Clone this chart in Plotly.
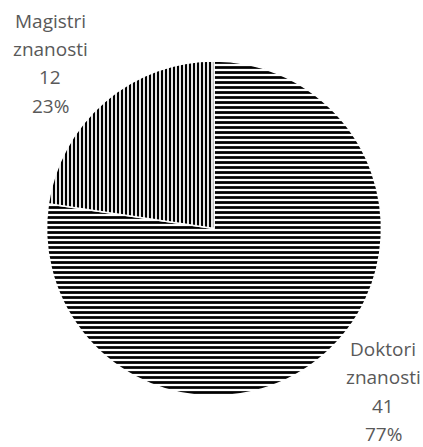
import plotly.graph_objects as go

labels = ["Doktori znanosti", "Magistri znanosti"]
values = [41, 12]
percents = ["77%", "23%"]
shapes = ["-", "|"]

fig = go.Figure(go.Pie(
    labels=labels,
    values=values,
    sort=False,
    direction="clockwise",
    rotation=0,
    textinfo="none",
    hoverinfo="label+value+percent",
    marker=dict(
        colors=["white", "white"],
        line=dict(color="white", width=1.5),
        pattern=dict(shape=shapes, fgcolor="black", bgcolor="white",
                     size=[5, 4], solidity=0.55, fillmode="replace"),
    ),
    domain=dict(x=[46.5/423, 381.5/423], y=[1-396/447, 1-61/447]),
    showlegend=False,
))

font = dict(family="Open Sans, Lato, sans-serif", size=19, color="#595959")
# label anchor: (center x, first baseline y), line step in px
pos = {"Doktori znanosti": (383, 357), "Magistri znanosti": (50, 29)}
step = 28.5
for lab, v, p in zip(labels, values, percents):
    x, y0 = pos[lab]
    lines = lab.split(" ") + [str(v), p]
    for i, line in enumerate(lines):
        yc = y0 + i * step - 8.5
        fig.add_annotation(x=x/423, y=1-yc/447, xref="paper", yref="paper",
                           text=line, showarrow=False, font=font,
                           xanchor="center", yanchor="middle", align="center")

fig.update_layout(width=423, height=447, margin=dict(l=0, r=0, t=0, b=0),
                  paper_bgcolor="white", plot_bgcolor="white")
fig.write_html("out.html", config={"displayModeBar": False},
               post_script="document.body.style.margin='0';document.body.style.overflow='hidden';")
